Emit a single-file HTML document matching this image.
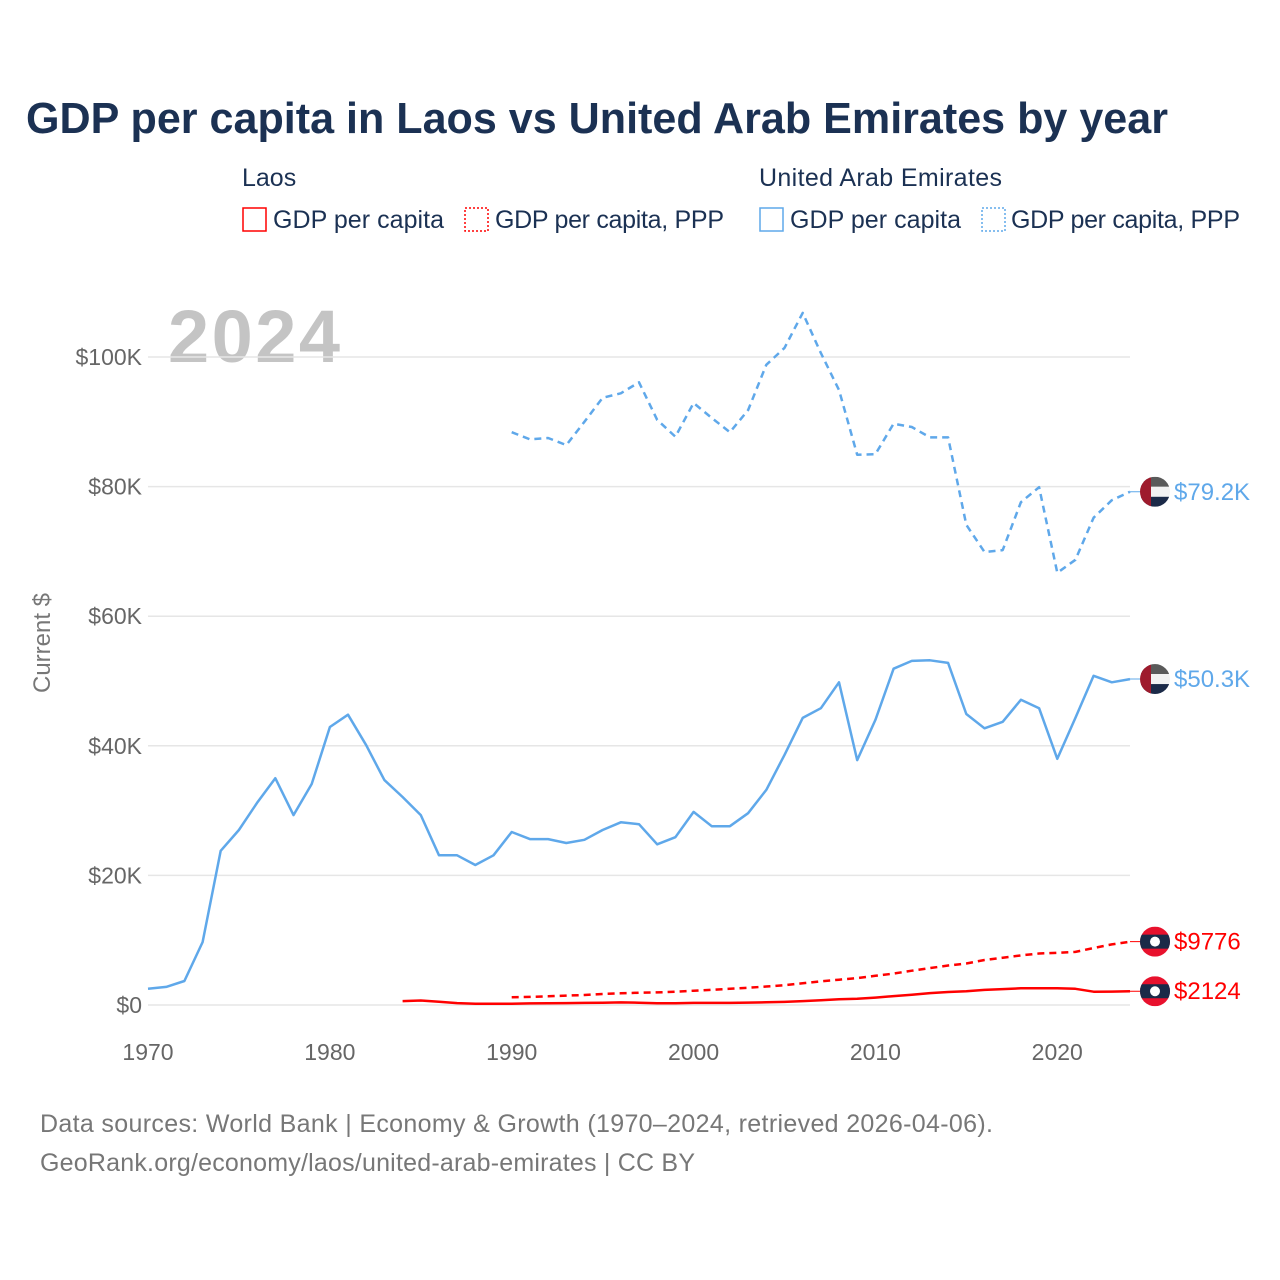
<!DOCTYPE html>
<html><head><meta charset="utf-8">
<style>
body{margin:0;background:#fff;}
svg{display:block;font-family:"Liberation Sans",sans-serif;}
</style></head>
<body>
<svg id="chart" width="1280" height="1280" viewBox="0 0 1280 1280">
<text x="26" y="133" font-size="44" font-weight="bold" fill="#1b3153" textLength="1142" lengthAdjust="spacingAndGlyphs">GDP per capita in Laos vs United Arab Emirates by year</text>
<g font-size="25" fill="#1b3153">
<text x="242" y="186">Laos</text>
<text x="759" y="186" textLength="243">United Arab Emirates</text>
<g><rect x="243" y="208" width="23" height="23" fill="none" stroke="#f00" stroke-width="1.5"/><text x="273" y="228" textLength="171">GDP per capita</text></g>
<g><rect x="465" y="208" width="23" height="23" fill="none" stroke="#f00" stroke-width="1.5" stroke-dasharray="2,2"/><text x="495" y="228" textLength="229">GDP per capita, PPP</text></g>
<g><rect x="760" y="208" width="23" height="23" fill="none" stroke="#5fa8ea" stroke-width="1.5"/><text x="790" y="228" textLength="171">GDP per capita</text></g>
<g><rect x="982" y="208" width="23" height="23" fill="none" stroke="#5fa8ea" stroke-width="1.5" stroke-dasharray="2,2"/><text x="1011" y="228" textLength="229">GDP per capita, PPP</text></g>
</g>
<text x="168" y="362" font-size="74" font-weight="bold" fill="#c4c4c4" textLength="172">2024</text>
<g id="grid"></g>
<g id="series"></g>
<g id="ends"></g>
<text transform="translate(50,643) rotate(-90)" text-anchor="middle" font-size="24" fill="#777">Current $</text>
<text x="40" y="1132" font-size="25" fill="#777" textLength="953">Data sources: World Bank | Economy &amp; Growth (1970–2024, retrieved 2026-04-06).</text>
<text x="40" y="1171" font-size="25" fill="#777" textLength="655">GeoRank.org/economy/laos/united-arab-emirates | CC BY</text>
</svg>
<script>
const uaeGdp = [2.5,2.8,3.7,9.7,23.8,27.0,31.2,35.0,29.3,34.1,42.9,44.8,40.1,34.7,32.1,29.3,23.1,23.1,21.6,23.1,26.7,25.6,25.6,25.0,25.5,27.0,28.2,27.9,24.8,25.9,29.8,27.6,27.6,29.6,33.2,38.6,44.3,45.8,49.8,37.8,44.0,51.9,53.1,53.2,52.8,44.9,42.7,43.7,47.1,45.8,38.0,44.3,50.8,49.8,50.3];
const uaePpp = [88.4,87.3,87.5,86.4,90.0,93.7,94.4,96.1,90.3,87.7,92.9,90.6,88.4,91.8,98.8,101.4,106.8,100.6,94.9,84.9,85.0,89.7,89.2,87.6,87.6,74.1,69.9,70.2,77.6,79.9,66.7,68.7,75.2,77.9,79.2];
const laosGdp = [0.6,0.7,0.5,0.3,0.2,0.2,0.2,0.25,0.28,0.3,0.33,0.36,0.4,0.36,0.26,0.28,0.32,0.33,0.32,0.37,0.42,0.48,0.6,0.72,0.9,0.95,1.14,1.37,1.58,1.83,2.0,2.13,2.33,2.45,2.57,2.6,2.6,2.5,2.05,2.07,2.124];
const laosPpp = [1.2,1.25,1.35,1.45,1.55,1.7,1.8,1.9,1.95,2.05,2.2,2.35,2.5,2.65,2.85,3.05,3.35,3.65,3.9,4.15,4.5,4.85,5.3,5.7,6.1,6.4,6.95,7.3,7.65,7.95,8.05,8.2,8.8,9.35,9.776];
const seriesStart = [1970,1990,1984,1990];
const yTicks = [0,20,40,60,80,100];
const yTickLabels = ['$0','$20K','$40K','$60K','$80K','$100K'];
const xTicks = [1970,1980,1990,2000,2010,2020];
const endLabels = ['$50.3K','$79.2K','$2124','$9776'];

const NS='http://www.w3.org/2000/svg';
const X = yr => 148 + (yr-1970)*(1130-148)/54;
const Y = v => 1005 - v*6.48;
function mk(tag, attrs, parent){const e=document.createElementNS(NS,tag);for(const k in attrs)e.setAttribute(k,attrs[k]);parent.appendChild(e);return e;}
const grid=document.getElementById('grid');
yTicks.forEach((t,i)=>{
  const l=mk('line',{x1:148,x2:1130,y1:Y(t),y2:Y(t),stroke:'#e6e6e6','stroke-width':1.5},grid);
  
  
  const tx=mk('text',{x:142,y:Y(t)+8,'text-anchor':'end','font-size':23,fill:'#666'},grid);
  tx.textContent=yTickLabels[i];
  
  
});
xTicks.forEach(t=>{
  const tx=mk('text',{x:X(t),y:1060,'text-anchor':'middle','font-size':23,fill:'#666'},grid);
  tx.textContent=t;
  
  
});
const sg=document.getElementById('series');
const defs=[[uaeGdp,'#5fa8ea',null,'uae-gdp-line'],[uaePpp,'#5fa8ea','7,5','uae-ppp-line'],[laosGdp,'#f00',null,'laos-gdp-line'],[laosPpp,'#f00','7,5','laos-ppp-line']];
defs.forEach((d,i)=>{
  const pts=d[0].map((v,j)=>X(seriesStart[i]+j).toFixed(1)+','+Y(v).toFixed(1)).join(' ');
  const a={points:pts,fill:'none',stroke:d[1],'stroke-width':2.5,'stroke-linejoin':'round'};
  if(d[2])a['stroke-dasharray']=d[2];
  const p=mk('polyline',a,sg);
  
  
});
const eg=document.getElementById('ends');
defs.forEach((d,i)=>{
  const last=d[0][d[0].length-1];
  const y=Y(last);
  const g=mk('g',{},eg);
  
  
  const cx=1155;
  mk('line',{x1:1130,x2:cx,y1:y,y2:y,stroke:d[1],'stroke-width':1},g);
  const cid='c'+i;
  const cp=mk('clipPath',{id:cid},g);
  mk('circle',{cx:cx,cy:y,r:15},cp);
  const fg=mk('g',{'clip-path':'url(#'+cid+')'},g);
  if(i<2){
    mk('rect',{x:cx-15,y:y-15,width:30,height:10,fill:'#5a5a5a'},fg);
    mk('rect',{x:cx-15,y:y-5,width:30,height:10,fill:'#f2f2f2'},fg);
    mk('rect',{x:cx-15,y:y+5,width:30,height:10,fill:'#1b2a48'},fg);
    mk('rect',{x:cx-15,y:y-15,width:11,height:30,fill:'#9e1b2d'},fg);
  } else {
    mk('rect',{x:cx-15,y:y-15,width:30,height:30,fill:'#e8112d'},fg);
    mk('rect',{x:cx-15,y:y-7,width:30,height:14,fill:'#1b2a48'},fg);
    mk('circle',{cx:cx,cy:y,r:5,fill:'#fff'},fg);
  }
  const t=mk('text',{x:1174,y:y+8,'font-size':24,fill:d[1]},g);
  t.textContent=endLabels[i];
});
</script>
</body></html>
